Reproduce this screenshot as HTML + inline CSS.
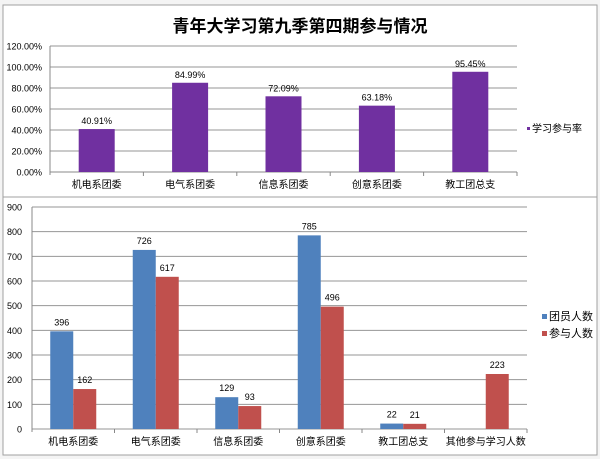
<!DOCTYPE html>
<html><head><meta charset="utf-8"><style>
body{margin:0;background:#fff;font-family:"Liberation Sans","Noto Sans CJK SC",sans-serif}
svg text{font-family:"Liberation Sans","Noto Sans CJK SC",sans-serif}
</style></head><body>
<svg id="c" width="600" height="459">
<rect x="0" y="0" width="600" height="459" fill="#f4f4f4"/>
<rect x="3" y="5" width="594" height="192" fill="#fff" stroke="#a0a0a0"/>
<rect x="3" y="197" width="594" height="258" fill="#fff" stroke="#a0a0a0"/>
<text x="300" y="32" font-size="17" font-weight="bold" text-anchor="middle">青年大学习第九季第四期参与情况</text>
<g id="top"></g><g id="bot"></g>
<rect x="527" y="127" width="3" height="3" fill="#7030a0"/>
<text x="532" y="132" font-size="10">学习参与率</text>
<rect x="542" y="314" width="5" height="5" fill="#4f81bd"/>
<text x="549" y="320" font-size="11">团员人数</text>
<rect x="542" y="331" width="5" height="5" fill="#c0504d"/>
<text x="549" y="337" font-size="11">参与人数</text>
</svg>
<script>
const topCats=["机电系团委","电气系团委","信息系团委","创意系团委","教工团总支"];
const rates=[40.91,84.99,72.09,63.18,95.45];
const rateTicks=[0,20,40,60,80,100,120];
const botCats=["机电系团委","电气系团委","信息系团委","创意系团委","教工团总支","其他参与学习人数"];
const members=[396,726,129,785,22,null];
const participants=[162,617,93,496,21,223];
const countTicks=[0,100,200,300,400,500,600,700,800,900];
const NS="http://www.w3.org/2000/svg";
function mk(p,t,a,txt){const e=document.createElementNS(NS,t);for(const k in a)e.setAttribute(k,a[k]);if(txt!=null)e.textContent=txt;p.appendChild(e);return e;}
// top chart
const T=document.getElementById('top');
const tx0=50,tx1=517,ty0=172,ty1=46;
const ty=v=>ty0-(v/120)*(ty0-ty1);
const tcw=(tx1-tx0)/topCats.length;
rateTicks.forEach(v=>{
 let l=mk(T,'line',{x1:tx0,x2:tx1,y1:ty(v),y2:ty(v),stroke:v?'#969696':'#888','stroke-width':1});
 
 let t=mk(T,'text',{x:42,y:ty(v)+3.5,'font-size':9,'text-anchor':'end'},v.toFixed(2)+'%');
 
});
mk(T,'line',{x1:tx0,x2:tx0,y1:ty1,y2:ty0+3,stroke:'#888'});
topCats.forEach((c,i)=>{
 const cx=tx0+tcw*(i+0.5);
 mk(T,'line',{x1:tx0+tcw*(i+1),x2:tx0+tcw*(i+1),y1:ty0,y2:ty0+4,stroke:'#888'});
 const b=mk(T,'rect',{x:cx-18,y:ty(rates[i]),width:36,height:ty0-ty(rates[i]),fill:'#7030a0'});
 
 const lb=mk(T,'text',{x:cx,y:ty(rates[i])-5,'font-size':9,'text-anchor':'middle'},rates[i].toFixed(2)+'%');
 
 const cl=mk(T,'text',{x:cx,y:188,'font-size':10,'text-anchor':'middle'},c);
 
});
// bottom chart
const B=document.getElementById('bot');
const bx0=32,bx1=527,by0=429,by1=207;
const by=v=>by0-(v/900)*(by0-by1);
const bcw=(bx1-bx0)/botCats.length;
countTicks.forEach(v=>{
 let l=mk(B,'line',{x1:bx0,x2:bx1,y1:by(v),y2:by(v),stroke:'#969696'});
 
 let t=mk(B,'text',{x:22,y:by(v)+3.5,'font-size':9,'text-anchor':'end'},v);
 
});
mk(B,'line',{x1:bx0,x2:bx0,y1:by1,y2:by0+3,stroke:'#888'});
botCats.forEach((c,i)=>{
 const cx=bx0+bcw*(i+0.5);
 mk(B,'line',{x1:bx0+bcw*(i+1),x2:bx0+bcw*(i+1),y1:by0,y2:by0+4,stroke:'#888'});
 [[members,'#4f81bd',-23,'members-bar'],[participants,'#c0504d',0,'participants-bar']].forEach(([arr,col,off,nm])=>{
  const v=arr[i];if(v==null)return;
  const r=mk(B,'rect',{x:cx+off,y:by(v),width:23,height:by0-by(v),fill:col});
  
  const t=mk(B,'text',{x:cx+off+11.5,y:by(v)-6,'font-size':9,'text-anchor':'middle'},v);
  
 });
 const cl=mk(B,'text',{x:cx,y:445,'font-size':10,'text-anchor':'middle'},c);
 
});
</script>
</body></html>
